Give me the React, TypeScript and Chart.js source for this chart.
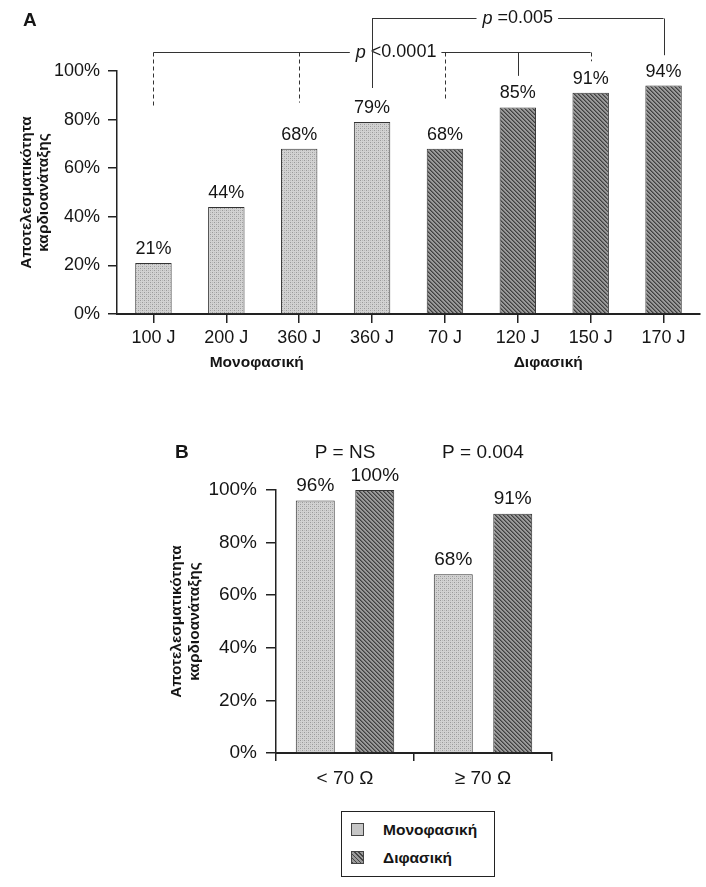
import React, { useEffect, useRef } from 'react';
import { Chart, registerables } from 'chart.js';

Chart.register(...registerables);

// ---------- data ----------
const categoriesA = ['100 J', '200 J', '360 J', '360 J', '70 J', '120 J', '150 J', '170 J'];
const valuesA = [21, 44, 68, 79, 68, 85, 91, 94];
const waveformA = ['mono', 'mono', 'mono', 'mono', 'bi', 'bi', 'bi', 'bi'];
const waveformNames: Record<string, string> = { mono: 'Μονοφασική', bi: 'Διφασική' };
const yTickValues = [0, 20, 40, 60, 80, 100];
const yTitleLines = ['Αποτελεσματικότητα', 'καρδιοανάταξης'];

// significance brackets for panel A (category index / value-axis levels)
const bracketLow = {
  italic: 'p',
  rest: ' <0.0001',
  level: 108,
  labelAt: 3.33,
  drops: [
    { i: 0, to: 85, dashed: true },
    { i: 2, to: 87, dashed: true },
    { i: 4, to: 88, dashed: true },
    { i: 5, to: 98, dashed: false },
    { i: 6, to: 104, dashed: true },
  ],
};
const bracketHigh = {
  italic: 'p',
  rest: ' =0.005',
  level: 122,
  labelAt: 5,
  drops: [
    { i: 3, to: 93, dashed: false },
    { i: 7, to: 106.5, dashed: false },
  ],
};
const bracketsA = [bracketLow, bracketHigh];

const categoriesB = ['< 70 Ω', '≥ 70 Ω'];
const monoB = [96, 68];
const biB = [100, 91];
const pLabelsB = ['P = NS', 'P = 0.004'];
const pLevelB = 114;

const FONT = '"Liberation Sans", Arial, Helvetica, sans-serif';
const INK = '#151515';

function makeMonoPattern(ctx: CanvasRenderingContext2D) {
  const c = document.createElement('canvas');
  c.width = 4; c.height = 4;
  const g = c.getContext('2d')!;
  g.fillStyle = '#d2d2d2';
  g.fillRect(0, 0, 4, 4);
  g.fillStyle = '#9a9a9a';
  g.fillRect(0, 0, 1, 1);
  g.fillRect(2, 2, 1, 1);
  g.fillStyle = '#bababa';
  g.fillRect(2, 0, 1, 1);
  g.fillRect(0, 2, 1, 1);
  return ctx.createPattern(c, 'repeat')!;
}

function makeBiPattern(ctx: CanvasRenderingContext2D) {
  const c = document.createElement('canvas');
  c.width = 4; c.height = 4;
  const g = c.getContext('2d')!;
  g.fillStyle = '#9a9a9a';
  g.fillRect(0, 0, 4, 4);
  for (let i = 0; i < 4; i++) {
    g.fillStyle = '#404040';
    g.fillRect(i, i, 1, 1);
    g.fillStyle = '#6a6a6a';
    g.fillRect((i + 1) % 4, i, 1, 1);
  }
  return ctx.createPattern(c, 'repeat')!;
}

const valueLabelPlugin = (size: number, gap: number) => ({
  id: 'valueLabels',
  afterDatasetsDraw(chart: any) {
    const ctx = chart.ctx;
    ctx.save();
    ctx.font = `${size}px ${FONT}`;
    ctx.fillStyle = INK;
    ctx.textAlign = 'center';
    ctx.textBaseline = 'bottom';
    chart.data.datasets.forEach((ds: any, di: number) => {
      const meta = chart.getDatasetMeta(di);
      meta.data.forEach((el: any, i: number) => {
        const v = ds.data[i];
        if (v == null) return;
        ctx.fillText(`${v}%`, el.x, el.y - gap);
      });
    });
    ctx.restore();
  },
});

const panelAExtras = {
  id: 'panelAExtras',
  afterDraw(chart: any) {
    const ctx = chart.ctx;
    const x = chart.scales.x;
    const y = chart.scales.y;
    ctx.save();
    // group labels under the axis
    ctx.font = `bold 15.5px ${FONT}`;
    ctx.fillStyle = INK;
    ctx.textAlign = 'center';
    ctx.textBaseline = 'middle';
    const groups = Array.from(new Set(waveformA));
    groups.forEach((g) => {
      const idx = waveformA.map((w, i) => (w === g ? i : -1)).filter((i) => i >= 0);
      const cx = idx.reduce((s, i) => s + x.getPixelForValue(i), 0) / idx.length;
      ctx.fillText(waveformNames[g], cx - 6, chart.chartArea.bottom + 49);
    });

    // brackets
    ctx.strokeStyle = '#333';
    ctx.lineWidth = 1;
    bracketsA.forEach((b) => {
      const ly = Math.round(y.getPixelForValue(b.level)) + 0.5;
      const xs = b.drops.map((d) => x.getPixelForValue(d.i));
      const left = Math.min(...xs);
      const right = Math.max(...xs);
      const cx = x.getPixelForValue(b.labelAt);
      ctx.font = `italic 18px ${FONT}`;
      const w1 = ctx.measureText(b.italic).width;
      ctx.font = `18px ${FONT}`;
      const w2 = ctx.measureText(b.rest).width;
      const tw = w1 + w2;
      const tl = cx - tw / 2;
      const tr = cx + tw / 2;
      ctx.setLineDash([]);
      ctx.beginPath();
      ctx.moveTo(left, ly);
      ctx.lineTo(tl - 6, ly);
      ctx.moveTo(tr + 5, ly);
      ctx.lineTo(right, ly);
      ctx.stroke();
      b.drops.forEach((d) => {
        const dx = Math.round(x.getPixelForValue(d.i)) + 0.5;
        ctx.setLineDash(d.dashed ? [4, 3] : []);
        ctx.beginPath();
        ctx.moveTo(dx, ly);
        ctx.lineTo(dx, y.getPixelForValue(d.to));
        ctx.stroke();
      });
      ctx.setLineDash([]);
      ctx.fillStyle = INK;
      ctx.textAlign = 'left';
      ctx.textBaseline = 'middle';
      ctx.font = `italic 18px ${FONT}`;
      ctx.fillText(b.italic, tl, ly);
      ctx.font = `18px ${FONT}`;
      ctx.fillText(b.rest, tl + w1, ly);
    });
    ctx.restore();
  },
};

const panelBExtras = {
  id: 'panelBExtras',
  afterDraw(chart: any) {
    const ctx = chart.ctx;
    const x = chart.scales.x;
    const y = chart.scales.y;
    ctx.save();
    ctx.font = `19px ${FONT}`;
    ctx.fillStyle = INK;
    ctx.textAlign = 'center';
    ctx.textBaseline = 'middle';
    pLabelsB.forEach((t, i) => {
      ctx.fillText(t, x.getPixelForValue(i), y.getPixelForValue(pLevelB));
    });
    ctx.restore();
  },
};

export default function App() {
  const refA = useRef<HTMLCanvasElement>(null);
  const refB = useRef<HTMLCanvasElement>(null);

  useEffect(() => {
    const ctxA = refA.current!.getContext('2d')!;
    const ctxB = refB.current!.getContext('2d')!;
    const mono = makeMonoPattern(ctxA);
    const bi = makeBiPattern(ctxA);
    const monoB2 = makeMonoPattern(ctxB);
    const biB2 = makeBiPattern(ctxB);

    Chart.defaults.font.family = FONT;

    const chartA = new Chart(ctxA, {
      type: 'bar',
      data: {
        labels: categoriesA,
        datasets: [
          {
            data: valuesA,
            backgroundColor: waveformA.map((w) => (w === 'mono' ? mono : bi)) as any,
            borderColor: '#333',
            borderWidth: 1,
            barPercentage: 0.5,
            categoryPercentage: 1,
          },
        ],
      },
      options: {
        animation: false,
        responsive: false,
        devicePixelRatio: 1,
        layout: { padding: { left: 0, right: 6, top: 71, bottom: 0 } },
        plugins: { legend: { display: false }, tooltip: { enabled: false } },
        scales: {
          x: {
            grid: { offset: false, drawOnChartArea: false, tickLength: 9, color: '#222', lineWidth: 1.5 },
            border: { display: true, color: '#222', width: 2 },
            ticks: { color: INK, font: { size: 18, family: FONT }, padding: 4, maxRotation: 0, autoSkip: false },
            afterFit: (s: any) => { s.height = 86; },
          },
          y: {
            min: 0,
            max: 100,
            afterBuildTicks: (s: any) => { s.ticks = yTickValues.map((v) => ({ value: v })); },
            grid: { drawOnChartArea: false, tickLength: 9, color: '#222', lineWidth: 1.5 },
            border: { display: true, color: '#222', width: 1.5 },
            ticks: { color: INK, font: { size: 18, family: FONT }, padding: 8, callback: (v: any) => `${v}%` },
            title: {
              display: true,
              text: yTitleLines,
              color: INK,
              font: { size: 15.5, weight: 'bold', family: FONT, lineHeight: 17 / 15.5 },
              padding: { top: 18.5, bottom: 0 },
            },
            afterFit: (s: any) => { s.width = 117; },
          },
        },
      },
      plugins: [valueLabelPlugin(18, 5), panelAExtras],
    } as any);

    const chartB = new Chart(ctxB, {
      type: 'bar',
      data: {
        labels: categoriesB,
        datasets: [
          {
            label: waveformNames.mono,
            data: monoB,
            backgroundColor: monoB2,
            borderColor: '#333',
            borderWidth: 1,
            barPercentage: 0.655,
            categoryPercentage: 0.862,
          },
          {
            label: waveformNames.bi,
            data: biB,
            backgroundColor: biB2,
            borderColor: '#333',
            borderWidth: 1,
            barPercentage: 0.655,
            categoryPercentage: 0.862,
          },
        ],
      },
      options: {
        animation: false,
        responsive: false,
        devicePixelRatio: 1,
        layout: { padding: { left: 0, right: 154, top: 70, bottom: 0 } },
        plugins: { legend: { display: false }, tooltip: { enabled: false } },
        scales: {
          x: {
            grid: { offset: true, drawOnChartArea: false, tickLength: 8, color: '#222', lineWidth: 1.5 },
            border: { display: true, color: '#222', width: 2 },
            ticks: { color: INK, font: { size: 19, family: FONT }, padding: 6, maxRotation: 0 },
            afterFit: (s: any) => { s.height = 47; },
          },
          y: {
            min: 0,
            max: 100,
            afterBuildTicks: (s: any) => { s.ticks = yTickValues.map((v) => ({ value: v })); },
            grid: { drawOnChartArea: false, tickLength: 10, color: '#222', lineWidth: 1.5 },
            border: { display: true, color: '#222', width: 1.5 },
            ticks: { color: INK, font: { size: 19, family: FONT }, padding: 9, callback: (v: any) => `${v}%` },
            title: {
              display: true,
              text: yTitleLines,
              color: INK,
              font: { size: 15.5, weight: 'bold', family: FONT, lineHeight: 18 / 15.5 },
              padding: { top: 168, bottom: 0 },
            },
            afterFit: (s: any) => { s.width = 276; },
          },
        },
      },
      plugins: [valueLabelPlugin(19, 5), panelBExtras],
    } as any);

    return () => {
      chartA.destroy();
      chartB.destroy();
    };
  }, []);

  const sq: React.CSSProperties = { position: 'absolute', left: 9, width: 11, height: 11, border: '1px solid #444' };

  return (
    <div style={{ position: 'absolute', left: 0, top: 0, width: 706, height: 887, background: '#fff', overflow: 'hidden', fontFamily: FONT, color: INK }}>
      <canvas ref={refA} width={706} height={400} style={{ position: 'absolute', left: 0, top: 0, width: 706, height: 400 }} />
      <canvas ref={refB} width={706} height={380} style={{ position: 'absolute', left: 0, top: 420, width: 706, height: 380 }} />
      <div style={{ position: 'absolute', left: 23, top: 9, fontWeight: 'bold', fontSize: 19, lineHeight: '22px' }}>A</div>
      <div style={{ position: 'absolute', left: 175, top: 441, fontWeight: 'bold', fontSize: 19, lineHeight: '22px' }}>B</div>
      <div style={{ position: 'absolute', left: 341, top: 811, width: 152, height: 64, border: '1.5px solid #222', background: '#fff' }}>
        <div style={{ ...sq, top: 11, background: '#c6c6c6' }} />
        <div style={{ position: 'absolute', left: 41, top: 8, fontWeight: 'bold', fontSize: 15.5, lineHeight: '20px' }}>{waveformNames.mono}</div>
        <div style={{ ...sq, top: 39, background: 'repeating-linear-gradient(45deg, #444 0px, #444 1px, #999 1px, #999 3px)' }} />
        <div style={{ position: 'absolute', left: 41, top: 36, fontWeight: 'bold', fontSize: 15.5, lineHeight: '20px' }}>{waveformNames.bi}</div>
      </div>
    </div>
  );
}
